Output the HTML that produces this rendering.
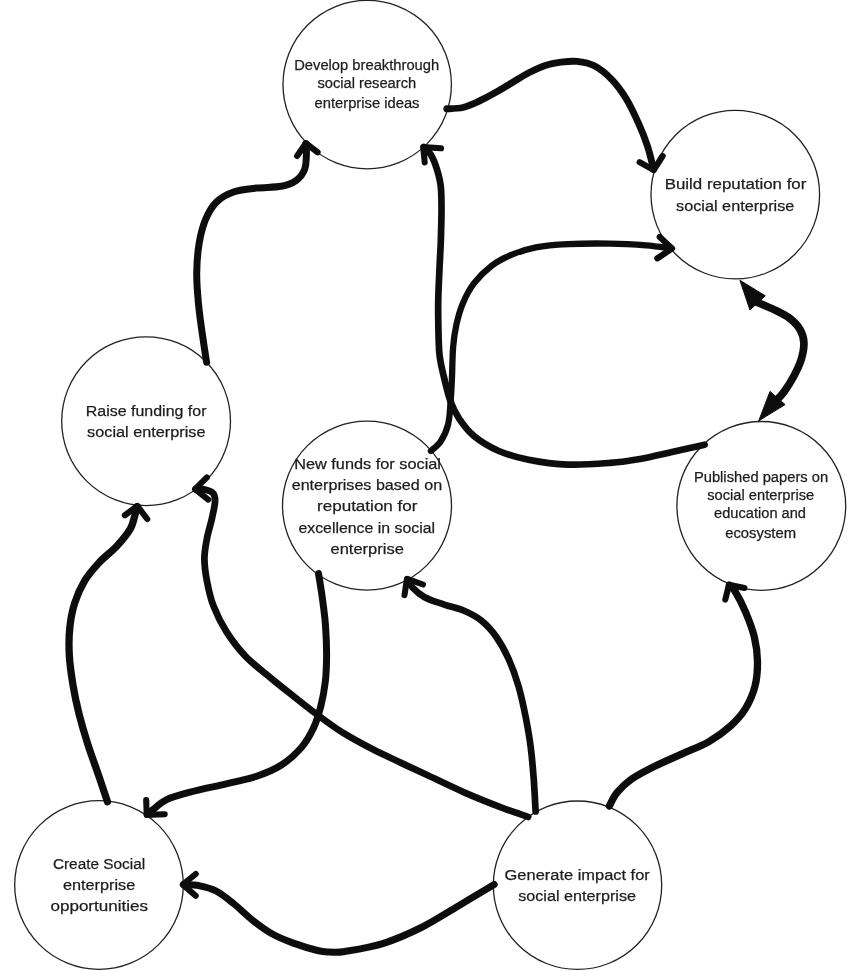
<!DOCTYPE html>
<html lang="en"><head><meta charset="utf-8"><title>Diagram</title>
<style>
html,body{margin:0;padding:0;background:#fff;}
body{width:850px;height:971px;overflow:hidden;font-family:"Liberation Sans",sans-serif;}
svg{display:block}
text{font-family:"Liberation Sans",sans-serif;fill:#1c1c1c;stroke:#1c1c1c;stroke-width:0.25}
.c{fill:#fff;stroke:#222;stroke-width:1.3}
.a{fill:none;stroke:#111;stroke-width:6.9;stroke-linecap:round;stroke-linejoin:round}
.f{fill:#111;stroke:#111;stroke-width:1;stroke-linejoin:round}
</style></head><body>
<svg width="850" height="971" viewBox="0 0 850 971">
<rect width="850" height="971" fill="#fff"/>
<g filter="url(#b)">


<circle class="c" cx="367.2" cy="84.6" r="84.2"/>
<circle class="c" cx="735.3" cy="194.6" r="84.3"/>
<circle class="c" cx="146.1" cy="421.2" r="84.4"/>
<circle class="c" cx="367" cy="505.6" r="84.5"/>
<circle class="c" cx="761.3" cy="505.9" r="84.4"/>
<circle class="c" cx="99.0" cy="885.0" r="84.3"/>
<circle class="c" cx="577.5" cy="885.2" r="84.2"/>
<path class="a" style="stroke-width:7.0" d="M206.6,362.2 C205.8,357.3 203.5,342.5 202.1,332.6 C200.7,322.7 199.3,312.8 198.4,302.9 C197.5,293.0 196.6,283.2 196.7,273.3 C196.8,263.4 197.6,252.7 199.1,243.6 C200.6,234.5 202.8,225.9 205.8,218.9 C208.8,211.9 212.2,206.1 216.9,201.6 C221.6,197.1 227.6,194.1 234.2,191.8 C240.8,189.6 248.7,189.0 256.5,188.1 C264.3,187.2 274.6,187.6 281.2,186.3 C287.8,185.1 292.1,183.4 296.0,180.6 C299.9,177.8 302.9,173.8 304.6,169.5 C306.3,165.2 306.2,159.0 306.4,154.7 C306.6,150.4 306.0,145.6 305.9,143.8"/>
<path class="a" style="stroke-width:6.1" d="M297.1,156.0 L305.8,143.3 L317.6,152.3"/>
<path class="a" style="stroke-width:6.7" d="M704.7,444.7 C699.2,445.9 682.8,449.6 672.0,452.0 C661.2,454.4 650.3,457.2 640.0,459.0 C629.7,460.8 622.0,462.0 610.0,462.9 C598.0,463.8 581.6,465.1 568.0,464.6 C554.4,464.1 540.0,462.0 528.5,459.7 C517.0,457.4 507.9,454.9 498.8,451.0 C489.7,447.1 480.7,441.6 474.1,436.2 C467.5,430.8 463.2,424.7 459.3,418.9 C455.4,413.1 453.1,408.2 450.6,401.6 C448.1,395.0 446.4,387.2 444.5,379.4 C442.6,371.6 440.5,364.1 439.5,354.7 C438.5,345.2 438.5,332.1 438.3,322.7 C438.1,313.2 438.1,307.1 438.3,298.0 C438.5,288.9 439.1,277.8 439.5,268.3 C439.9,258.8 440.5,250.7 440.8,241.2 C441.1,231.7 441.5,220.6 441.5,211.5 C441.5,202.4 441.6,193.8 440.8,186.8 C440.1,179.8 438.6,174.8 437.0,169.5 C435.4,164.2 433.1,158.4 430.9,154.7 C428.7,151.0 424.9,148.4 423.7,147.1"/>
<path class="a" style="stroke-width:6.1" d="M441.1,148.3 L423.3,147.1 L424.7,162.4"/>
<path class="a" style="stroke-width:6.9" d="M446.8,108.8 C449.5,108.6 457.5,108.8 462.9,107.5 C468.3,106.2 473.9,103.5 479.4,101.0 C484.9,98.5 490.4,95.4 495.9,92.3 C501.4,89.2 506.9,85.8 512.4,82.5 C517.9,79.2 523.3,75.6 528.8,72.8 C534.3,70.0 539.9,67.3 545.3,65.5 C550.7,63.7 555.7,62.9 561.0,62.2 C566.3,61.5 571.5,60.8 577.0,61.4 C582.5,62.0 588.5,62.8 594.3,65.8 C600.1,68.8 606.2,73.8 611.6,79.4 C617.0,85.0 622.0,91.8 626.5,99.2 C631.0,106.6 635.3,116.1 638.8,123.9 C642.3,131.7 645.0,138.5 647.5,146.1 C650.0,153.7 652.6,165.4 653.6,169.3"/>
<path class="a" style="stroke-width:6.1" d="M639.6,162.2 L653.7,170.1 L662.6,156.0"/>
<path class="a" style="stroke-width:6.3" d="M430.9,451.0 C432.5,449.4 437.9,445.7 440.8,441.2 C443.7,436.7 446.6,430.5 448.2,423.9 C449.8,417.3 450.0,409.0 450.6,401.6 C451.2,394.2 451.5,388.4 451.9,379.4 C452.3,370.4 452.4,356.4 453.1,347.4 C453.8,338.4 454.7,332.6 456.3,325.2 C457.9,317.8 460.0,310.0 463.0,303.0 C466.0,296.0 469.4,289.4 474.1,283.2 C478.8,277.0 485.2,270.6 491.4,265.9 C497.6,261.2 503.8,257.9 511.2,254.8 C518.6,251.7 526.4,249.1 535.9,247.3 C545.4,245.5 555.6,244.7 568.0,244.1 C580.4,243.5 597.0,243.4 610.0,243.6 C623.0,243.8 636.0,244.6 646.2,245.4 C656.4,246.2 667.0,247.9 671.2,248.4"/>
<path class="a" style="stroke-width:6.1" d="M659.7,236.9 L672.1,248.5 L657.3,258.4"/>
<path class="a" style="stroke-width:7.7" d="M755.0,301.5 C758.3,302.9 768.9,307.1 774.7,309.9 C780.5,312.7 785.6,315.1 789.8,318.4 C794.0,321.7 797.8,325.5 800.1,329.6 C802.5,333.7 803.7,337.8 803.9,342.8 C804.1,347.8 802.8,354.2 801.1,359.8 C799.4,365.4 796.3,371.4 793.5,376.7 C790.7,382.0 786.9,387.9 784.1,391.8 C781.3,395.7 777.9,398.8 776.6,400.2"/>
<path class="f" d="M739.9,280.3 L765.3,295.8 L749.9,309.9Z"/>
<path class="f" d="M758.7,420.9 L770.0,391.4 L785.1,404.6Z"/>
<path class="a" style="stroke-width:7.3" d="M609.3,806.0 C610.6,803.7 613.4,796.9 617.2,792.4 C621.0,787.9 625.8,783.1 632.0,778.8 C638.2,774.5 646.0,770.6 654.2,766.5 C662.4,762.4 672.3,758.2 681.4,754.1 C690.5,750.0 700.4,746.5 708.6,741.8 C716.8,737.1 724.6,731.3 730.8,725.7 C737.0,720.1 741.6,715.0 745.6,708.4 C749.6,701.8 753.0,694.0 755.0,686.2 C757.0,678.4 757.6,669.7 757.5,661.5 C757.4,653.3 756.3,645.0 754.3,636.8 C752.3,628.6 748.7,619.5 745.6,612.1 C742.5,604.7 738.4,596.8 735.7,592.3 C733.0,587.8 730.5,586.5 729.5,585.3"/>
<path class="a" style="stroke-width:6.1" d="M744.4,588.0 L729.0,584.7 L725.3,599.6"/>
<path class="a" style="stroke-width:6.7" d="M535.6,811.5 C535.3,806.2 534.6,790.6 533.8,780.0 C533.0,769.4 532.1,758.2 530.8,747.9 C529.5,737.6 527.9,728.5 525.9,718.2 C523.9,707.9 521.4,696.0 518.5,686.1 C515.6,676.2 512.3,667.1 508.6,658.9 C504.9,650.7 500.7,643.1 496.2,636.7 C491.7,630.3 486.8,624.9 481.4,620.6 C476.0,616.3 470.3,613.5 464.1,610.8 C457.9,608.1 450.9,606.9 444.3,604.6 C437.7,602.3 430.0,600.1 424.6,597.2 C419.2,594.3 415.0,590.3 412.2,587.3 C409.4,584.3 408.3,580.7 407.5,579.4"/>
<path class="a" style="stroke-width:6.1" d="M423.0,584.5 L407.0,578.8 L404.5,595.1"/>
<path class="a" style="stroke-width:6.8" d="M528.1,816.9 C523.6,815.3 511.7,811.4 501.0,807.3 C490.3,803.2 476.4,797.7 464.1,792.3 C451.8,786.9 437.8,780.0 427.1,775.0 C416.4,770.0 409.1,766.6 400.0,762.3 C390.9,758.0 382.3,754.2 372.8,749.3 C363.3,744.4 352.2,738.5 343.2,732.9 C334.1,727.3 326.3,721.4 318.5,715.6 C310.7,709.8 304.0,704.5 296.2,698.3 C288.4,692.1 279.9,685.6 271.5,678.6 C263.1,671.6 253.1,664.1 245.6,656.3 C238.1,648.5 231.8,640.1 226.4,631.6 C221.0,623.1 216.6,614.0 213.3,605.5 C210.1,597.0 208.4,588.6 206.9,580.8 C205.4,573.0 204.4,565.6 204.4,558.6 C204.4,551.6 205.7,545.4 206.9,538.8 C208.1,532.2 210.5,525.2 211.8,519.0 C213.2,512.8 214.8,506.1 215.0,501.8 C215.2,497.5 214.8,495.2 213.0,493.1 C211.2,491.0 207.3,490.1 204.4,489.4 C201.5,488.7 197.2,489.2 195.8,489.2"/>
<path class="a" style="stroke-width:6.1" d="M206.9,477.4 L195.1,489.2 L208.2,499.6"/>
<path class="a" style="stroke-width:7.3" d="M107.5,801.8 C106.0,797.5 102.1,785.6 98.8,775.9 C95.5,766.2 91.0,754.1 87.7,743.8 C84.4,733.5 81.6,724.0 79.1,714.1 C76.6,704.2 74.5,694.4 72.9,684.5 C71.3,674.6 69.8,664.5 69.3,655.0 C68.8,645.5 68.9,636.4 69.8,627.7 C70.7,619.0 72.2,610.8 74.7,603.0 C77.2,595.2 80.5,587.6 84.6,580.8 C88.7,574.0 94.1,568.1 99.4,562.3 C104.8,556.5 111.5,551.8 116.7,546.2 C121.9,540.6 127.2,534.2 130.3,528.9 C133.4,523.5 134.0,517.8 135.2,514.1 C136.4,510.4 136.9,508.0 137.2,506.7"/>
<path class="a" style="stroke-width:6.1" d="M124.9,515.3 L137.3,505.9 L147.2,519.0"/>
<path class="a" style="stroke-width:7.0" d="M318.5,573.6 C319.1,577.5 321.1,588.7 322.2,597.1 C323.3,605.5 324.7,614.7 325.4,624.2 C326.1,633.7 326.6,644.4 326.6,653.9 C326.6,663.4 326.3,672.4 325.4,681.0 C324.4,689.6 322.9,698.0 320.9,705.8 C318.9,713.6 316.8,721.0 313.5,728.0 C310.2,735.0 306.6,741.5 301.2,747.7 C295.8,753.9 288.8,760.2 281.4,765.0 C274.0,769.8 265.8,773.1 256.7,776.2 C247.6,779.3 238.2,780.9 227.1,783.6 C216.0,786.3 200.1,789.5 190.0,792.2 C179.9,794.9 172.8,796.7 166.7,799.6 C160.5,802.5 156.3,807.0 153.1,809.5 C149.9,812.0 148.3,813.6 147.3,814.4"/>
<path class="a" style="stroke-width:6.1" d="M146.2,800.1 L146.7,814.9 L164.7,814.2"/>
<path class="a" style="stroke-width:7.0" d="M494.2,884.5 C488.7,887.8 473.2,897.1 461.2,904.2 C449.2,911.3 435.2,920.5 422.3,927.0 C409.4,933.5 396.4,939.2 383.5,943.3 C370.6,947.4 353.6,950.0 344.7,951.5 C335.8,953.0 334.5,952.2 330.0,952.0 C325.5,951.8 323.7,952.0 317.5,950.5 C311.3,949.0 300.1,945.6 292.7,942.9 C285.3,940.2 279.5,938.0 272.9,934.3 C266.3,930.6 259.8,925.9 253.2,920.7 C246.6,915.6 239.6,908.4 233.4,903.4 C227.2,898.4 221.9,894.0 216.1,891.0 C210.3,888.0 204.2,886.7 198.8,885.6 C193.4,884.5 186.1,884.8 183.6,884.6"/>
<path class="a" style="stroke-width:6.1" d="M195.7,874.0 L182.8,884.6 L195.7,895.7"/>
<text x="294.2" y="69.9" font-size="14.7" textLength="145.0" lengthAdjust="spacingAndGlyphs">Develop breakthrough</text>
<text x="317.4" y="87.7" font-size="14.7" textLength="98.8" lengthAdjust="spacingAndGlyphs">social research</text>
<text x="314.5" y="108" font-size="14.7" textLength="105.0" lengthAdjust="spacingAndGlyphs">enterprise ideas</text>
<text x="664.7" y="188.7" font-size="15.5" textLength="141.7" lengthAdjust="spacingAndGlyphs">Build reputation for</text>
<text x="676.1" y="210.6" font-size="15.5" textLength="118.2" lengthAdjust="spacingAndGlyphs">social enterprise</text>
<text x="85.8" y="416.1" font-size="15.5" textLength="120.7" lengthAdjust="spacingAndGlyphs">Raise funding for</text>
<text x="87.1" y="437.3" font-size="15.5" textLength="118.4" lengthAdjust="spacingAndGlyphs">social enterprise</text>
<text x="294.2" y="468.8" font-size="15.5" textLength="146.8" lengthAdjust="spacingAndGlyphs">New funds for social</text>
<text x="291.7" y="489.8" font-size="15.5" textLength="150.5" lengthAdjust="spacingAndGlyphs">enterprises based on</text>
<text x="317" y="511.3" font-size="15.5" textLength="100.5" lengthAdjust="spacingAndGlyphs">reputation for</text>
<text x="298.4" y="533.1" font-size="15.5" textLength="136.6" lengthAdjust="spacingAndGlyphs">excellence in social</text>
<text x="330.5" y="554.1" font-size="15.5" textLength="73.4" lengthAdjust="spacingAndGlyphs">enterprise</text>
<text x="693.9" y="482.3" font-size="14.7" textLength="134.3" lengthAdjust="spacingAndGlyphs">Published papers on</text>
<text x="707.2" y="499.7" font-size="14.7" textLength="107.0" lengthAdjust="spacingAndGlyphs">social enterprise</text>
<text x="714.1" y="518.0" font-size="14.7" textLength="91.9" lengthAdjust="spacingAndGlyphs">education and</text>
<text x="725.2" y="538.1" font-size="14.7" textLength="70.9" lengthAdjust="spacingAndGlyphs">ecosystem</text>
<text x="52.9" y="868.9" font-size="15.5" textLength="92.3" lengthAdjust="spacingAndGlyphs">Create Social</text>
<text x="62.9" y="890.2" font-size="15.5" textLength="72.3" lengthAdjust="spacingAndGlyphs">enterprise</text>
<text x="50.5" y="911.3" font-size="15.5" textLength="97.5" lengthAdjust="spacingAndGlyphs">opportunities</text>
<text x="504.6" y="879.9" font-size="15.5" textLength="145.2" lengthAdjust="spacingAndGlyphs">Generate impact for</text>
<text x="518.2" y="900.9" font-size="15.5" textLength="117.8" lengthAdjust="spacingAndGlyphs">social enterprise</text>
</g>
<defs><filter id="b" x="0" y="0" width="100%" height="100%" filterUnits="userSpaceOnUse"><feGaussianBlur stdDeviation="0.45"/></filter></defs>
</svg></body></html>
